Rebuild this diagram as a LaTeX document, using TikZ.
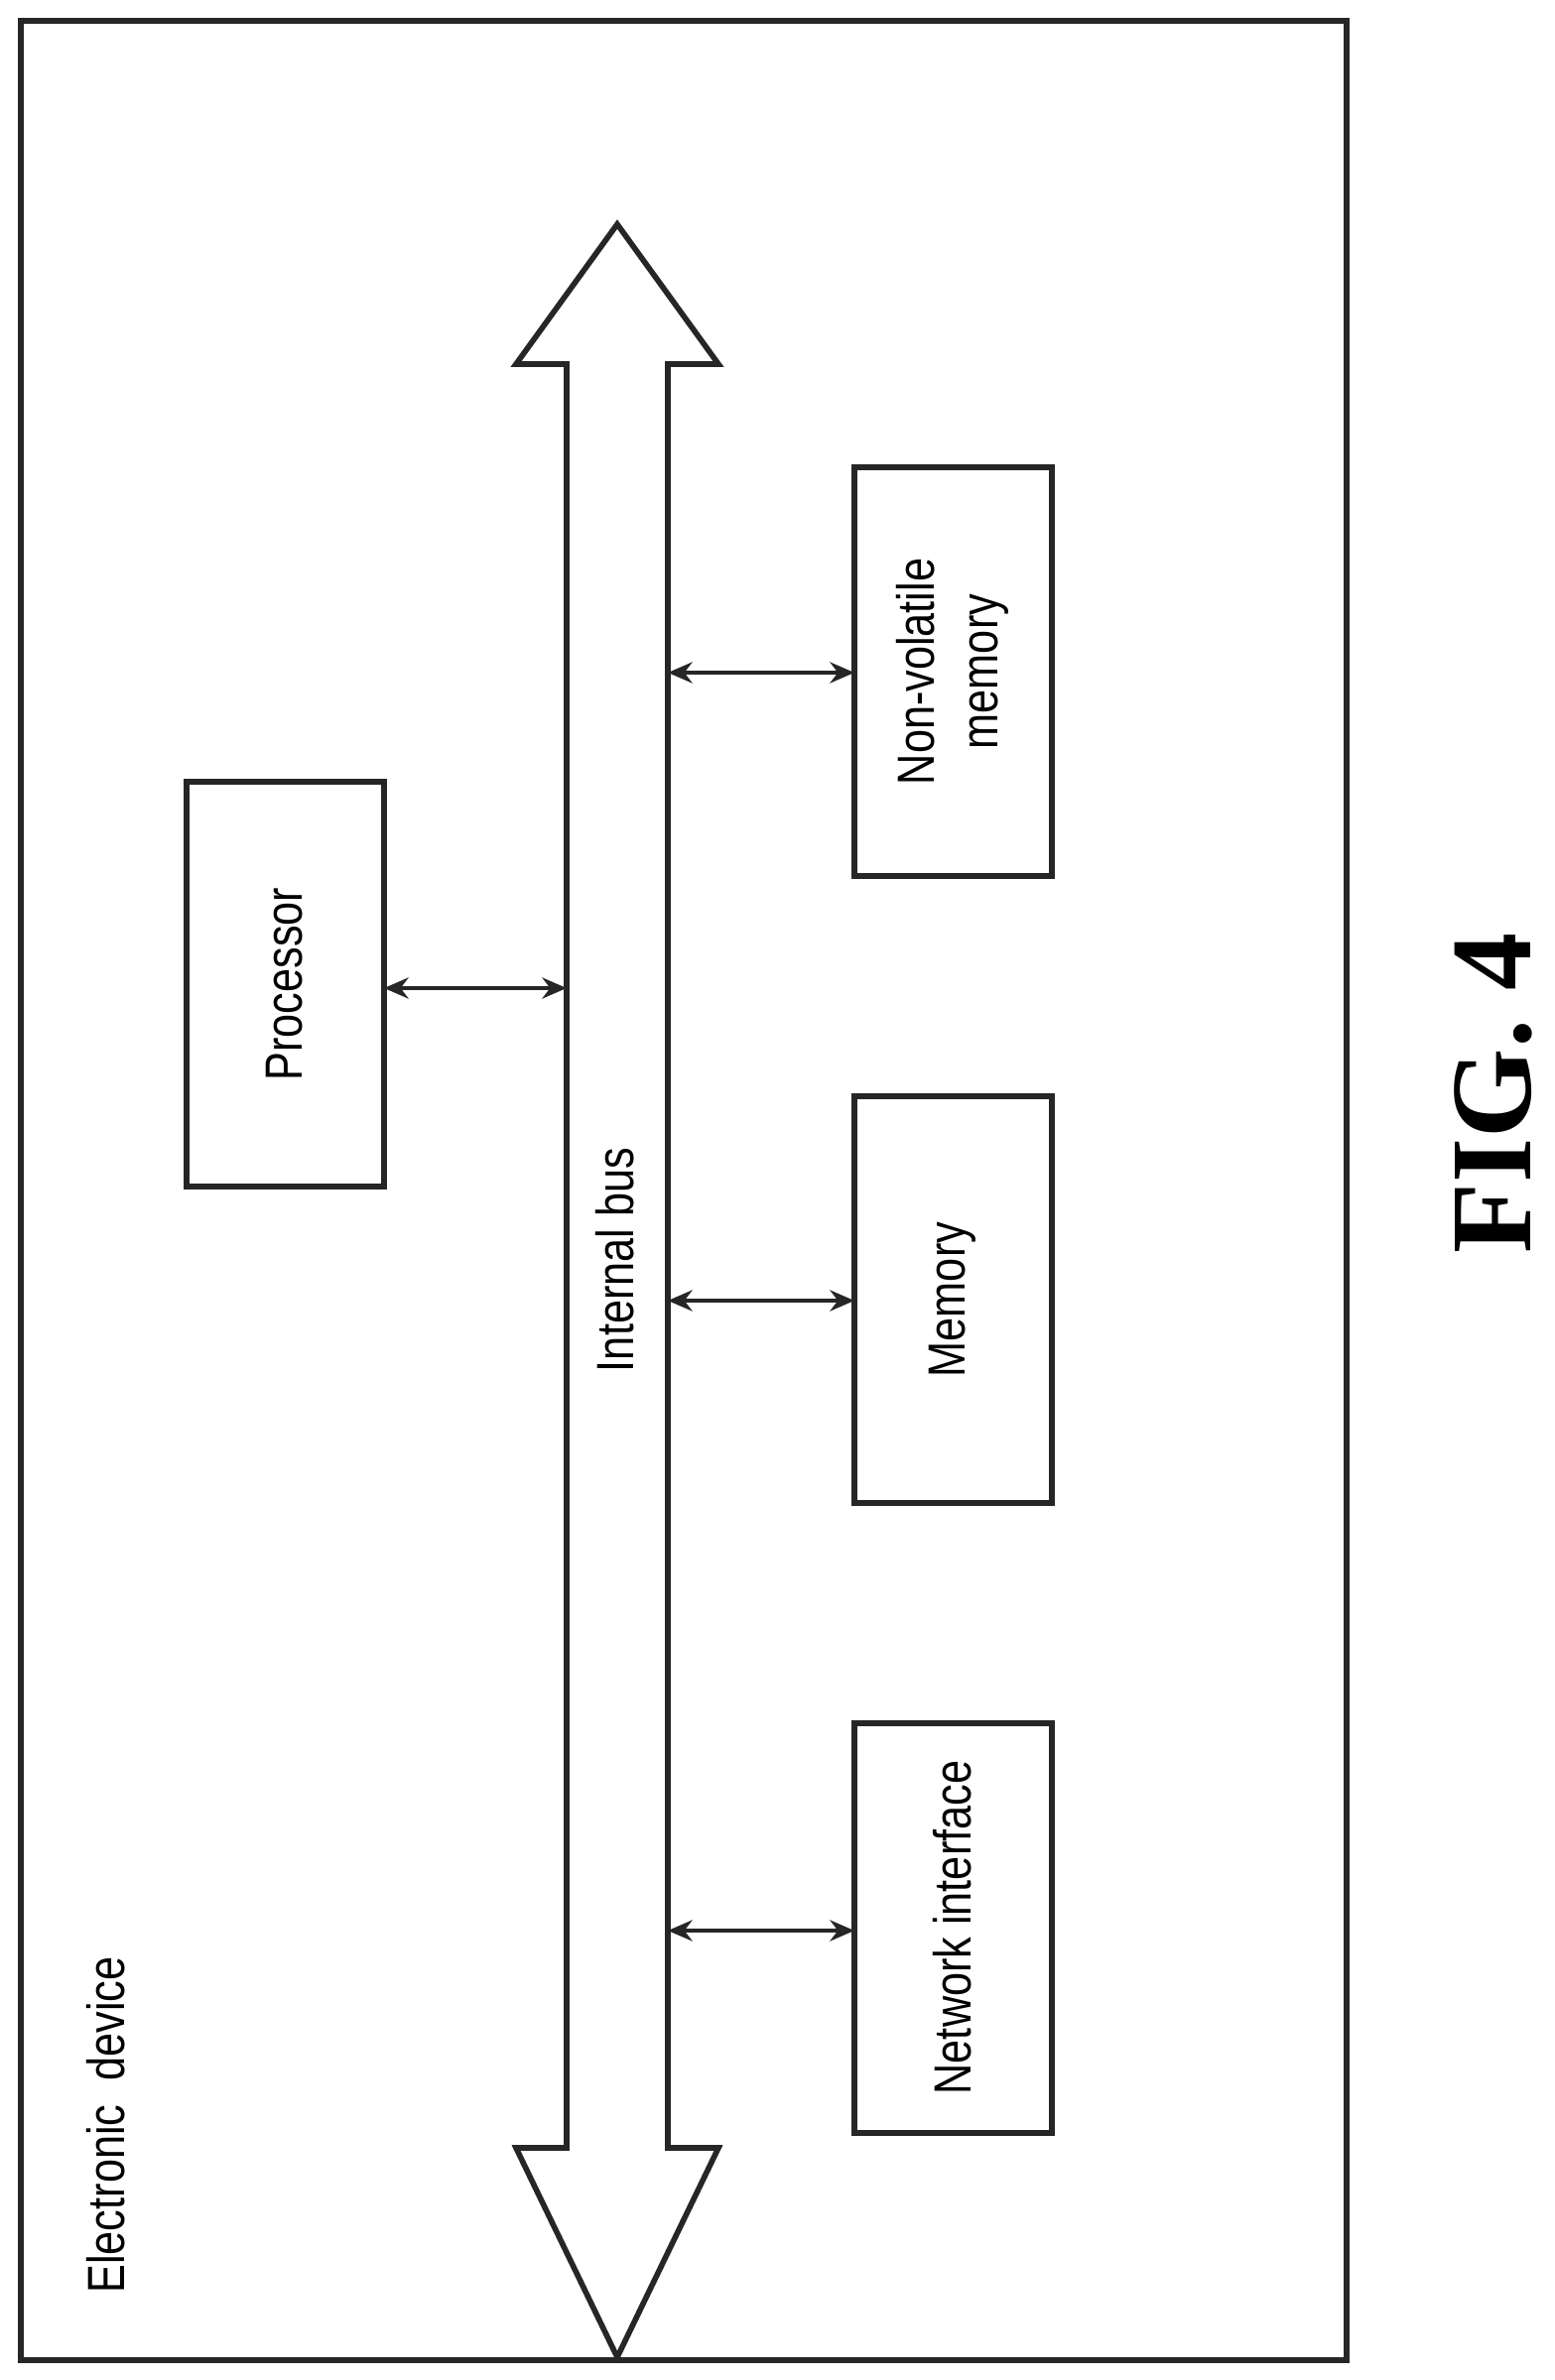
\documentclass[tikz,border=0pt]{standalone}
\usepackage{fontspec}
\setmainfont{Liberation Serif}
\newfontfamily\narrow[FakeStretch=0.82]{Liberation Sans}
\usetikzlibrary{arrows.meta}
\begin{document}
\begin{tikzpicture}[x=0.01cm,y=-0.01cm,
  lbl/.style={font=\narrow\fontsize{15}{18}\selectfont,rotate=90,align=center},
  boxline/.style={draw=black!85,line width=1.6pt},
  link/.style={draw=black!85,line width=1.2pt,{Stealth[length=7pt,width=6pt]}-{Stealth[length=7pt,width=6pt]}}]
\useasboundingbox (0,0) rectangle (1567,2399);
\draw[boxline] (21,21) rectangle (1357,2379);
% bus
\draw[boxline,fill=white]
  (622,226) -- (724,367) -- (673,367) -- (673,2165) -- (724,2165) -- (622,2376)
  -- (520,2165) -- (571,2165) -- (571,367) -- (520,367) -- cycle;
\node[lbl] (bus) at (620,1270) {Internal bus};
\coordinate (busL) at (571,996);
\coordinate (bR1) at (673,678);
\coordinate (bR2) at (673,1311);
\coordinate (bR3) at (673,1946);
\draw[boxline] (188,788) rectangle (387,1196);
\coordinate (procR) at (387,996);
\node[lbl] (proc) at (287,992) {Processor};
\draw[boxline] (861,471) rectangle (1060,883);
\node[lbl] (nvm) at (960,677) {Non-volatile\\memory};
\coordinate (nvmL) at (861,678);
\draw[boxline] (861,1105) rectangle (1060,1515);
\node[lbl] (mem) at (960,1310) {Memory};
\coordinate (memL) at (861,1311);
\draw[boxline] (861,1737) rectangle (1060,2150);
\node[lbl] (net) at (960,1943) {Network interface};
\coordinate (netL) at (861,1946);
\draw[link] (procR) -- (busL);
\draw[link] (bR1) -- (nvmL);
\draw[link] (bR2) -- (memL);
\draw[link] (bR3) -- (netL);
\node[lbl] (ed) at (107,2142) {Electronic\ \ device};
\node[rotate=90,font=\bfseries\fontsize{33}{36}\selectfont] (fig) at (1505,1102) {FIG. 4};
\end{tikzpicture}
\end{document}
